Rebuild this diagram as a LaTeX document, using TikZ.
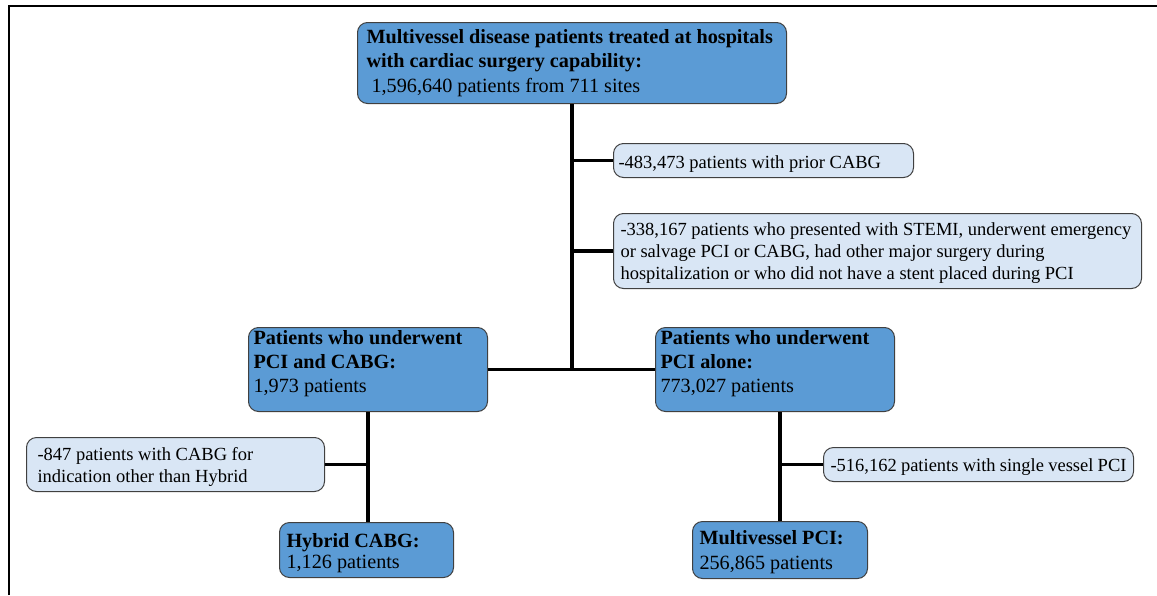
\documentclass[tikz,border=0pt]{standalone}
\usepackage{fontspec}
\setmainfont{Liberation Serif}
\definecolor{darkblue}{HTML}{5B9BD5}
\definecolor{lightblue}{HTML}{D9E6F5}
\definecolor{edgegray}{HTML}{404040}
\newcommand{\dn}[1]{\rule[-#1pt]{0pt}{#1pt}}
\newcommand{\up}[1]{\rule{0pt}{#1pt}}
\begin{document}
\begin{tikzpicture}[x=1pt,y=-1pt,
  box/.style={draw=edgegray, line width=1pt, rounded corners=10pt, align=flush left,
    anchor=north west, inner xsep=7pt, inner ysep=0pt},
  darkbox/.style={box, fill=darkblue, font=\fontsize{20.2}{#1}\selectfont},
  darkbox/.default=24,
  lightbox/.style={box, fill=lightblue, font=\fontsize{18.5}{#1}\selectfont},
  lightbox/.default=22,
  conn/.style={line width=3.8pt, black},
  frame/.style={line width=2pt, black}]
\useasboundingbox (0,0) rectangle (1157,595);
\draw[frame] (9,595) -- (9,6) -- (1157,6);

\node[darkbox=24.5, inner xsep=9pt, text width=411pt, minimum height=81pt] (top) at (357,22)
  {\textbf{Multivessel disease patients treated at hospitals}\\\textbf{with cardiac surgery capability:}\\\ 1,596,640 patients from 711 sites};
\node[lightbox, inner xsep=5pt, text width=290pt, minimum height=34pt] (prior) at (613,143)
  {\up{19}-483,473 patients with prior CABG};
\node[lightbox, text width=514pt, minimum height=75pt] (stemi) at (613,213)
  {\up{17}-338,167 patients who presented with STEMI, underwent emergency\\or salvage PCI or CABG, had other major surgery during\\hospitalization or who did not have a stent placed during PCI};
\node[darkbox, inner xsep=5pt, text width=229pt, minimum height=84pt] (pc) at (248,327)
  {\textbf{Patients who underwent}\\\textbf{PCI and CABG:}\\1,973 patients\dn{16}};
\node[darkbox, inner xsep=5pt, text width=229pt, minimum height=84pt] (pa) at (655,327)
  {\textbf{Patients who underwent}\\\textbf{PCI alone:}\\773,027 patients\dn{16}};
\node[lightbox, inner xsep=11pt, text width=276pt, minimum height=54pt] (oth) at (26,437)
  {\up{17}-847 patients with CABG for\\indication other than Hybrid};
\node[darkbox=21.5, text width=160pt, minimum height=55pt] (hyb) at (279,522)
  {\up{20}\textbf{Hybrid CABG:}\\1,126 patients};
\node[lightbox, text width=296pt, minimum height=34pt] (single) at (823,447)
  {\up{17}-516,162 patients with single vessel PCI};
\node[darkbox=24.5, text width=161pt, minimum height=57pt] (mpci) at (692,521)
  {\up{18}\textbf{Multivessel PCI:}\\256,865 patients};

\coordinate (j) at (top.south |- pc.east);
\draw[conn] (top.south) -- (j);
\draw[conn] (pc.east) -- (pa.west);
\draw[conn] (top.south |- prior.west) -- (prior.west);
\draw[conn] (top.south |- stemi.west) -- (stemi.west);
\draw[conn] (pc.south) -- (pc.south |- hyb.north);
\draw[conn] (oth.east) -- (pc.south |- oth.east);
\draw[conn] (mpci.north |- pa.south) -- (mpci.north);
\draw[conn] (mpci.north |- single.west) -- (single.west);
\end{tikzpicture}
\end{document}
